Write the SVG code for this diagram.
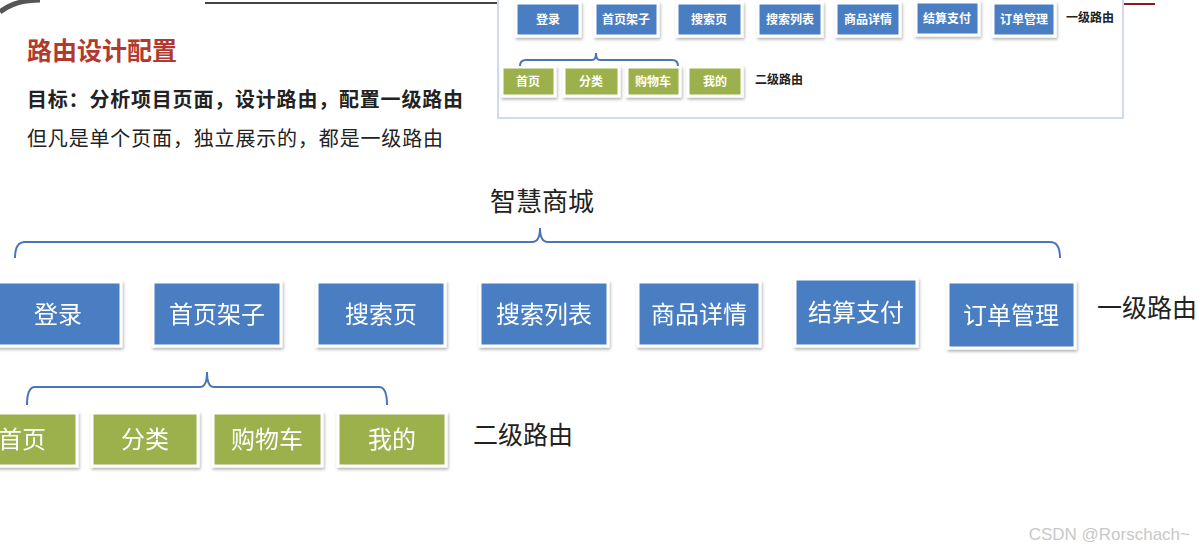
<svg xmlns="http://www.w3.org/2000/svg" width="1198" height="558" viewBox="0 0 1198 558">
<style>
text{font-family:"Noto Sans CJK SC","Noto Sans",sans-serif}
.b{fill:#4a7ec2;stroke:#fff;stroke-width:3}
.g{fill:#9cb04b;stroke:#fff;stroke-width:3}
.t{fill:#fff;font-size:24px;text-anchor:middle;dominant-baseline:central}
.st{fill:#fff;font-size:12px;font-weight:bold;text-anchor:middle;dominant-baseline:central}
.br{fill:none;stroke:#4a76b8;stroke-width:2}
.lbl{fill:#222;font-size:25px;dominant-baseline:central}
</style>
<defs>
<filter id="sh" x="-10%" y="-10%" width="125%" height="135%">
<feDropShadow dx="1" dy="2" stdDeviation="1.5" flood-color="#000" flood-opacity="0.3"/>
</filter>
</defs>
<rect width="1198" height="558" fill="#fff"/>
<path d="M0,12 Q15,0 40,0" fill="none" stroke="#555" stroke-width="5"/>
<line x1="205" y1="3" x2="500" y2="3" stroke="#444" stroke-width="2"/>
<line x1="1123" y1="4" x2="1155" y2="4" stroke="#8b1a1a" stroke-width="2"/>
<text x="27" y="60" font-size="25" font-weight="bold" fill="#b03a2e">路由设计配置</text>
<text x="27" y="107" font-size="20" font-weight="bold" fill="#222" textLength="436">目标：分析项目页面，设计路由，配置一级路由</text>
<text x="27" y="146" font-size="20" fill="#222" textLength="416">但凡是单个页面，独立展示的，都是一级路由</text>
<g id="inset">
<rect x="498" y="-4" width="625" height="122" fill="#fff" stroke="#cfdcef" stroke-width="2"/>
<g filter="url(#sh)">
<rect class="b" x="516" y="3" width="64" height="33"/>
<rect class="b" x="595" y="3" width="63" height="33"/>
<rect class="b" x="677" y="3" width="65" height="33"/>
<rect class="b" x="758" y="3" width="64" height="33"/>
<rect class="b" x="836" y="3" width="64" height="33"/>
<rect class="b" x="916" y="2" width="63" height="33"/>
<rect class="b" x="993" y="3" width="62" height="33"/>
<rect class="g" x="502" y="67" width="53" height="29"/>
<rect class="g" x="564" y="67" width="55" height="29"/>
<rect class="g" x="627" y="67" width="53" height="29"/>
<rect class="g" x="688" y="67" width="54" height="29"/>
</g>
<text class="st" x="548" y="18">登录</text>
<text class="st" x="626" y="18">首页架子</text>
<text class="st" x="709" y="18">搜索页</text>
<text class="st" x="790" y="18">搜索列表</text>
<text class="st" x="868" y="18">商品详情</text>
<text class="st" x="947" y="17">结算支付</text>
<text class="st" x="1024" y="18">订单管理</text>
<text x="1066" y="16" font-size="12" font-weight="bold" fill="#222" dominant-baseline="central">一级路由</text>
<text class="st" x="528" y="80">首页</text>
<text class="st" x="591" y="80">分类</text>
<text class="st" x="653" y="80">购物车</text>
<text class="st" x="715" y="80">我的</text>
<text x="755" y="78" font-size="12" font-weight="bold" fill="#222" dominant-baseline="central">二级路由</text>
<path class="br" d="M520,66 Q520,60 526,60 L592,60 Q596,60 596,53 Q596,60 600,60 L672,60 Q678,60 678,66" stroke-width="1.3"/>
</g>
<text x="542" y="199" font-size="26" fill="#222" text-anchor="middle" dominant-baseline="central">智慧商城</text>
<g id="connectors">
<path class="br" d="M15,258 Q15,242 25,242 L532,242 Q540,242 540,228 Q540,242 548,242 L1050,242 Q1060,242 1060,258"/>
<path class="br" d="M27,405 Q27,387 35,387 L200,387 Q207,387 207,372 Q207,387 214,387 L379,387 Q387,387 387,405"/>
</g>
<g id="n-login" filter="url(#sh)"><rect class="b" x="-5" y="282" width="126" height="64"/><text class="t" x="58" y="312">登录</text></g>
<g id="n-home-shell" filter="url(#sh)"><rect class="b" x="153" y="282" width="128" height="64"/><text class="t" x="217" y="312">首页架子</text></g>
<g id="n-search" filter="url(#sh)"><rect class="b" x="317" y="282" width="128" height="64"/><text class="t" x="381" y="312">搜索页</text></g>
<g id="n-search-list" filter="url(#sh)"><rect class="b" x="480" y="282" width="128" height="64"/><text class="t" x="544" y="312">搜索列表</text></g>
<g id="n-detail" filter="url(#sh)"><rect class="b" x="638" y="282" width="122" height="64"/><text class="t" x="699" y="312">商品详情</text></g>
<g id="n-pay" filter="url(#sh)"><rect class="b" x="795" y="279" width="122" height="67"/><text class="t" x="856" y="310">结算支付</text></g>
<g id="n-order" filter="url(#sh)"><rect class="b" x="948" y="282" width="127" height="66"/><text class="t" x="1011" y="313">订单管理</text></g>
<text class="lbl" x="1097" y="306">一级路由</text>
<g id="n-home" filter="url(#sh)"><rect class="g" x="-5" y="413" width="82" height="53"/><text class="t" x="22" y="437">首页</text></g>
<g id="n-category" filter="url(#sh)"><rect class="g" x="92" y="413" width="106" height="53"/><text class="t" x="145" y="437">分类</text></g>
<g id="n-cart" filter="url(#sh)"><rect class="g" x="213" y="413" width="109" height="53"/><text class="t" x="267" y="437">购物车</text></g>
<g id="n-mine" filter="url(#sh)"><rect class="g" x="338" y="413" width="108" height="53"/><text class="t" x="392" y="437">我的</text></g>
<text class="lbl" x="473" y="433">二级路由</text>
<text x="1190" y="540" font-size="17" fill="#c8c8c8" text-anchor="end" style="font-family:'Liberation Sans',sans-serif">CSDN @Rorschach~</text>
</svg>
